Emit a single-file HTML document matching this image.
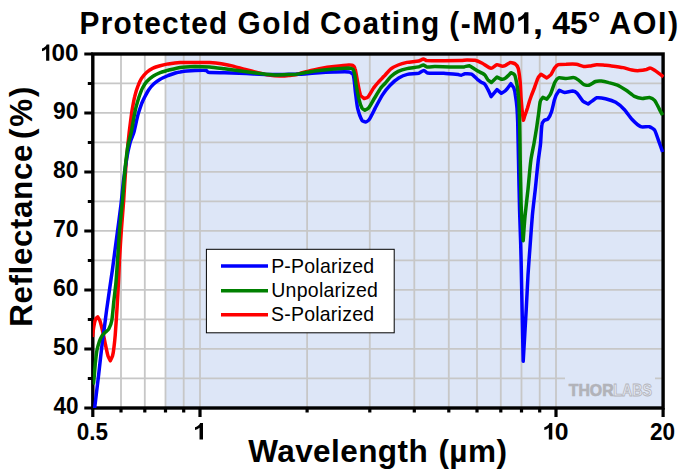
<!DOCTYPE html>
<html><head><meta charset="utf-8"><title>Protected Gold Coating</title>
<style>
html,body{margin:0;padding:0;background:#fff;}
body{width:682px;height:471px;overflow:hidden;font-family:"Liberation Sans",sans-serif;}
svg{display:block;}
</style></head><body>
<svg width="682" height="471" viewBox="0 0 682 471" font-family="'Liberation Sans', sans-serif">
<rect x="0" y="0" width="682" height="471" fill="#fff"/>
<rect x="165.5" y="54.0" width="497.7" height="354.0" fill="#dde6f7"/>
<path d="M121.0 54.0V408.0M144.8 54.0V408.0M165.5 54.0V408.0M183.7 54.0V408.0M200.0 54.0V408.0M307.1 54.0V408.0M369.8 54.0V408.0M414.3 54.0V408.0M448.8 54.0V408.0M477.0 54.0V408.0M500.8 54.0V408.0M521.5 54.0V408.0M539.7 54.0V408.0M556.0 54.0V408.0M92.8 378.3H663.1M92.8 348.8H663.1M92.8 319.3H663.1M92.8 289.8H663.1M92.8 260.3H663.1M92.8 230.8H663.1M92.8 201.3H663.1M92.8 171.8H663.1M92.8 142.3H663.1M92.8 112.8H663.1M92.8 83.3H663.1" stroke="#c7c7c7" stroke-width="1.8" fill="none"/>
<rect x="565" y="372" width="90" height="30" fill="#dde6f7"/>
<rect x="92.8" y="54.0" width="570.3" height="354.0" fill="none" stroke="#000" stroke-width="3.4"/>
<path d="M84.3 408.0H92.8M84.3 349.0H92.8M84.3 290.0H92.8M84.3 231.0H92.8M84.3 172.0H92.8M84.3 113.0H92.8M84.3 54.0H92.8M87.8 378.5H92.8M87.8 319.5H92.8M87.8 260.5H92.8M87.8 201.5H92.8M87.8 142.5H92.8M87.8 83.5H92.8M92.8 408.0V417.0M200.0 408.0V417.0M556.0 408.0V417.0M663.1 408.0V417.0M121.0 408.0V412.5M144.8 408.0V412.5M165.5 408.0V412.5M183.7 408.0V412.5M307.1 408.0V412.5M369.8 408.0V412.5M414.3 408.0V412.5M448.8 408.0V412.5M477.0 408.0V412.5M500.8 408.0V412.5M521.5 408.0V412.5M539.7 408.0V412.5" stroke="#000" stroke-width="3.2" fill="none"/>
<clipPath id="cp"><rect x="92.8" y="54" width="571.5" height="354"/></clipPath>
<g clip-path="url(#cp)" fill="none" stroke-width="3.5" stroke-linejoin="round" stroke-linecap="butt">
<path d="M92.6 337.0C92.6 337.0 93.1 331.4 93.3 330.0C93.5 328.5 94.3 324.0 94.6 322.5C94.8 321.6 95.6 319.1 96.0 318.3C96.2 317.9 97.7 316.8 97.7 316.8C97.7 316.8 99.7 320.1 100.0 321.0C100.7 323.2 102.4 330.1 102.9 332.4C103.5 334.9 105.0 342.5 105.5 345.0C106.0 347.2 107.3 353.8 108.0 356.0C108.3 357.0 110.3 360.8 110.3 360.8C110.3 360.8 112.2 357.0 112.5 356.0C113.0 354.2 113.8 348.8 114.0 347.0C114.3 344.7 115.0 337.7 115.2 335.4C115.6 329.8 116.8 312.8 117.1 307.2C117.5 301.2 118.4 283.4 118.7 277.4C118.9 273.8 119.3 263.0 119.5 259.4C119.8 253.5 121.0 235.6 121.4 229.7C121.8 223.8 123.3 205.9 123.7 200.0C124.2 193.0 125.4 172.0 126.0 165.0C126.5 158.4 128.5 138.7 129.2 132.1C129.7 127.9 131.3 115.5 131.9 111.3C132.4 108.4 134.0 99.6 134.7 96.7C135.2 94.4 137.3 87.6 138.2 85.4C138.7 84.0 140.7 79.7 141.5 78.4C142.4 77.0 145.6 73.3 146.8 72.2C147.9 71.2 151.7 68.7 153.0 68.1C154.4 67.4 158.7 66.1 160.2 65.7C161.8 65.3 166.6 64.2 168.2 63.9C170.6 63.6 177.7 62.8 180.1 62.6C181.7 62.5 186.4 62.5 188.0 62.5C189.4 62.5 193.6 62.6 195.0 62.6C197.9 62.6 206.8 62.4 209.7 62.5C212.1 62.6 219.1 63.3 221.4 63.7C223.8 64.1 230.8 65.5 233.1 66.1C235.8 66.8 243.6 69.1 246.3 69.8C248.6 70.4 255.7 72.2 258.0 72.7C260.1 73.2 266.2 74.6 268.3 74.9C270.6 75.2 277.7 75.9 280.0 76.0C281.8 76.1 287.0 75.7 288.8 75.5C290.0 75.4 293.8 75.2 295.0 74.9C297.0 74.5 302.7 72.5 304.7 72.0C307.6 71.2 316.4 69.2 319.3 68.6C322.2 68.1 331.1 66.8 334.0 66.5C336.9 66.2 345.8 65.3 348.7 65.1C349.6 65.1 352.3 65.0 353.0 65.4C353.7 65.8 355.0 68.3 355.2 69.1C355.9 71.6 357.1 79.4 357.6 82.0C358.1 84.6 359.5 92.6 360.5 95.1C360.9 96.0 364.2 98.6 364.2 98.6C364.2 98.6 367.4 97.7 367.9 97.1C369.3 95.5 372.5 89.7 373.7 87.9C374.5 86.8 377.1 83.6 378.0 82.6C378.8 81.6 381.5 78.8 382.4 77.9C382.9 77.4 384.5 75.7 385.0 75.2C386.2 73.9 389.5 70.0 390.9 68.9C392.2 67.9 396.7 65.6 398.2 65.0C399.9 64.3 405.2 62.8 407.0 62.4C409.3 61.9 416.4 61.5 418.7 61.0C419.7 60.8 422.4 59.2 423.4 59.1C424.1 59.1 426.1 60.5 426.8 60.6C430.2 60.9 440.3 60.7 443.7 60.7C447.2 60.7 457.7 60.7 461.2 60.6C462.4 60.6 465.9 60.0 467.1 60.0C468.7 60.0 473.5 60.0 475.0 60.3C476.5 60.6 480.9 62.5 482.3 63.2C484.1 64.1 489.1 68.1 491.1 68.3C492.5 68.4 495.6 65.0 497.0 64.7C497.9 64.5 500.5 66.0 501.4 66.1C502.1 66.2 504.4 65.9 505.1 65.6C506.2 65.2 509.1 62.8 510.3 62.6C511.3 62.4 514.5 63.4 515.3 64.0C516.2 64.6 518.0 67.5 518.3 68.5C519.0 71.2 519.9 79.5 520.2 82.3C520.5 85.8 520.9 96.5 521.2 100.0C521.4 102.4 522.0 109.6 522.3 112.0C522.5 113.7 523.4 120.3 523.4 120.3C523.4 120.3 524.3 117.3 524.5 116.5C524.8 115.7 525.7 113.1 526.0 112.3C526.3 111.4 527.2 108.9 527.5 108.0C527.9 106.6 529.1 102.4 529.5 101.0C529.9 99.8 531.2 96.2 531.6 95.0C532.1 93.8 533.5 90.2 534.0 89.0C534.8 86.8 537.0 80.0 538.0 77.9C538.4 77.0 541.0 74.2 541.0 74.2C541.0 74.2 546.8 77.9 546.8 77.9C546.8 77.9 550.5 75.1 551.2 74.2C552.0 73.1 553.6 69.4 554.4 68.3C555.0 67.5 557.1 65.0 558.1 64.7C559.6 64.2 564.5 64.2 566.1 64.2C568.2 64.1 574.4 63.9 576.4 64.2C577.9 64.4 582.2 66.2 583.7 66.4C584.9 66.6 588.4 66.3 589.6 66.1C591.0 65.9 595.3 64.8 596.7 64.7C598.5 64.6 603.9 65.2 605.7 65.3C606.8 65.4 610.2 65.8 611.3 65.9C613.7 66.2 620.8 67.1 623.1 67.6C624.9 68.0 630.1 69.7 631.9 70.0C633.3 70.3 637.7 70.7 639.2 70.6C640.7 70.5 645.1 69.8 646.5 69.5C647.3 69.3 649.4 68.0 650.2 68.1C651.2 68.2 653.8 69.8 654.6 70.3C655.7 71.0 658.7 73.2 659.7 73.9C660.5 74.5 663.4 76.9 663.4 76.9" stroke="#ff0000"/>
<path d="M92.8 424.0C92.8 424.0 94.3 410.9 94.7 407.6C95.5 400.9 97.9 380.9 98.7 374.2C99.5 367.7 101.6 348.0 102.4 341.5C102.7 338.8 103.9 330.7 104.3 328.0C104.8 324.4 106.1 313.7 106.6 310.1C107.2 305.6 109.2 292.3 109.8 287.8C110.3 284.2 111.9 273.5 112.4 269.9C113.3 263.4 115.8 243.7 116.7 237.2C117.6 230.7 120.2 211.0 121.0 204.5C121.6 199.6 123.0 184.9 123.6 180.0C124.2 175.6 126.0 162.4 126.8 158.0C127.3 155.0 129.2 146.0 130.0 143.0C130.6 140.8 133.3 134.6 133.9 132.4C134.8 129.1 136.9 118.7 137.8 115.4C138.4 113.0 140.8 106.0 141.6 103.7C142.1 102.4 144.0 98.5 144.6 97.2C145.4 95.7 147.7 91.4 148.6 90.0C149.5 88.7 152.7 84.9 153.9 83.8C155.0 82.8 158.9 80.1 160.2 79.3C161.7 78.4 166.6 76.2 168.2 75.5C169.6 75.0 173.9 73.5 175.4 73.0C176.3 72.7 179.1 72.0 180.1 71.9C181.5 71.7 185.6 71.2 187.0 71.1C188.6 71.0 193.4 70.7 195.0 70.6C197.3 70.5 204.1 70.2 206.3 70.5C206.8 70.6 207.7 72.1 208.2 72.2C211.4 72.6 221.1 72.6 224.3 72.7C227.2 72.8 236.1 73.1 239.0 73.2C241.9 73.3 250.8 73.8 253.7 73.9C256.0 74.0 263.1 74.4 265.4 74.5C267.7 74.6 274.8 74.6 277.1 74.6C279.4 74.6 286.5 74.3 288.8 74.2C290.0 74.2 293.8 74.3 295.0 74.3C296.9 74.3 302.8 74.0 304.7 73.9C307.6 73.7 316.4 72.9 319.3 72.7C322.2 72.5 331.1 72.1 334.0 72.0C337.0 71.9 345.9 71.5 348.8 71.9C349.8 72.1 352.9 73.7 353.2 74.7C354.3 78.0 354.9 88.5 355.4 92.0C355.8 95.2 356.9 105.0 357.6 108.2C358.2 110.7 360.7 118.1 362.0 120.3C362.4 121.0 364.9 122.1 365.7 122.0C366.6 121.9 368.8 120.2 369.3 119.4C370.7 117.3 374.0 110.4 375.2 108.1C376.6 105.5 380.9 97.4 382.5 94.9C383.8 92.9 388.2 87.1 389.9 85.4C391.5 83.8 396.8 79.3 398.7 78.1C400.3 77.1 405.6 74.8 407.4 74.4C409.6 73.9 416.5 73.7 418.7 73.2C419.8 72.9 422.7 70.5 423.9 70.5C424.8 70.5 426.6 72.9 427.5 73.0C430.7 73.4 440.5 73.0 443.7 73.2C446.6 73.4 455.4 74.3 458.3 74.6C458.9 74.7 460.6 75.3 461.2 75.2C462.0 75.1 464.1 73.9 464.9 73.8C466.2 73.7 470.3 73.7 471.5 74.2C472.9 74.8 476.2 78.3 477.4 79.3C478.3 80.0 480.9 82.0 481.8 82.6C482.3 82.9 484.1 83.4 484.5 83.9C485.4 84.9 487.4 88.5 488.0 89.7C488.7 91.0 491.1 96.6 491.1 96.6C491.1 96.6 497.0 89.6 497.0 89.6C497.0 89.6 501.4 93.3 501.4 93.3C501.4 93.3 505.1 91.1 505.8 90.3C507.0 89.1 510.9 83.7 510.9 83.7C510.9 83.7 513.5 87.1 513.9 88.1C514.5 89.6 515.3 94.4 515.5 96.0C515.9 98.4 516.8 105.6 517.0 108.0C517.2 110.8 517.6 119.2 517.7 122.0C517.9 129.6 518.3 152.4 518.5 160.0C518.7 170.2 519.3 200.8 519.6 211.0C519.8 217.7 520.5 237.6 520.7 244.3C520.9 250.4 521.3 268.9 521.4 275.0C521.5 282.0 522.0 303.0 522.1 310.0C522.3 320.3 523.2 361.3 523.2 361.3C523.2 361.3 525.6 320.3 526.2 310.0C526.6 303.0 527.6 282.0 528.0 275.0C528.4 268.9 529.7 250.4 530.2 244.3C530.6 238.4 531.9 220.9 532.4 215.0C532.9 209.8 534.7 194.4 535.3 189.3C535.9 183.4 537.6 165.9 538.3 160.0C538.7 156.8 540.2 147.2 540.5 144.0C540.9 140.2 541.3 128.7 541.9 124.9C542.0 123.9 543.4 121.2 544.1 120.5C544.7 119.9 547.3 119.7 547.8 119.1C548.9 117.8 551.0 113.3 551.5 111.7C552.3 109.4 553.8 102.3 554.4 100.0C554.7 99.1 555.6 96.4 556.0 95.5C556.6 94.4 559.3 90.3 559.3 90.3C559.3 90.3 563.5 92.4 564.7 92.5C566.3 92.6 571.1 91.0 572.7 91.1C573.7 91.2 576.4 92.6 577.1 93.3C578.5 94.7 581.6 99.9 583.0 101.3C583.8 102.1 588.1 104.0 588.1 104.0C588.1 104.0 591.5 101.5 592.4 100.9C593.3 100.3 595.7 98.0 596.7 97.8C598.4 97.5 603.8 98.3 605.5 98.7C607.6 99.2 613.8 101.2 615.7 102.3C617.7 103.5 622.9 108.0 624.5 109.7C626.2 111.5 630.2 117.5 631.9 119.3C633.5 121.0 638.6 125.8 640.7 126.7C642.3 127.4 647.7 126.3 649.4 126.7C650.6 127.0 653.9 129.1 654.6 130.1C655.7 131.8 657.5 137.7 658.2 139.6C659.1 142.1 662.6 152.0 662.6 152.0" stroke="#0000ff"/>
<path d="M92.8 384.0C92.8 384.0 93.6 383.3 93.6 383.1C94.1 379.0 95.0 366.5 95.4 362.3C95.7 359.8 96.5 352.4 97.0 350.0C97.4 348.2 98.9 342.8 99.5 341.0C99.9 339.9 101.4 336.8 102.0 335.8C102.5 335.1 104.4 333.2 105.0 332.6C105.7 331.9 108.3 329.9 108.8 329.0C109.7 327.4 111.5 322.3 111.8 320.5C112.5 316.4 113.5 303.9 114.0 299.7C114.4 296.1 115.7 285.5 116.0 281.9C116.2 279.5 116.7 272.4 116.9 270.0C117.5 261.9 119.0 237.8 119.6 229.7C120.1 223.8 122.0 205.9 122.5 200.0C123.1 193.4 124.5 173.7 125.2 167.2C125.7 162.7 127.3 149.3 128.1 144.9C128.6 142.3 130.8 134.7 131.3 132.2C132.1 128.1 134.1 115.7 135.0 111.6C135.6 108.7 138.1 100.0 139.0 97.1C139.6 95.3 141.5 89.9 142.4 88.2C143.1 86.8 145.7 82.7 146.8 81.5C147.9 80.3 151.6 77.1 153.0 76.2C154.3 75.3 158.7 73.2 160.2 72.6C161.8 72.0 166.6 70.7 168.2 70.2C170.6 69.6 177.7 67.7 180.1 67.4C183.1 67.0 192.0 66.6 195.0 66.5C197.9 66.5 206.8 66.7 209.7 66.9C212.6 67.1 221.4 68.4 224.3 68.8C227.2 69.2 236.1 70.4 239.0 70.8C241.9 71.2 250.8 72.3 253.7 72.7C256.0 73.0 263.1 74.0 265.4 74.2C267.7 74.4 274.8 74.9 277.1 74.9C279.4 74.9 286.5 74.7 288.8 74.6C290.0 74.6 293.8 74.7 295.0 74.5C297.0 74.3 302.8 73.0 304.7 72.7C307.6 72.2 316.4 70.9 319.3 70.5C322.2 70.1 331.1 69.2 334.0 69.0C336.9 68.8 345.8 68.0 348.7 68.0C349.6 68.1 352.4 68.7 353.0 69.4C353.9 70.5 354.7 74.6 355.0 76.0C355.3 77.7 355.8 83.0 356.1 84.7C356.6 87.7 358.4 96.8 359.1 99.7C359.5 101.5 361.1 106.5 362.0 108.1C362.4 108.7 364.9 110.3 364.9 110.3C364.9 110.3 368.1 108.7 368.6 108.0C369.9 106.5 372.7 101.2 373.7 99.5C375.2 97.1 379.5 89.9 381.1 87.6C381.8 86.7 384.3 84.3 385.0 83.5C386.2 82.1 389.6 77.7 390.9 76.5C392.2 75.3 396.6 72.2 398.2 71.4C399.9 70.6 405.2 69.0 407.0 68.6C409.3 68.1 416.4 67.4 418.7 66.9C419.7 66.7 422.4 65.0 423.4 65.0C424.2 65.0 426.0 66.8 426.8 66.9C428.4 67.1 433.3 66.6 434.9 66.6C438.1 66.6 447.8 66.9 451.0 66.9C453.6 66.9 461.6 67.1 464.2 66.9C465.2 66.8 468.3 65.6 469.3 65.8C470.6 66.1 473.9 68.6 475.0 69.3C475.5 69.6 476.8 70.5 477.3 70.8C478.7 71.6 483.3 73.6 484.5 74.7C485.5 75.5 487.2 79.0 488.0 79.9C488.6 80.5 491.4 82.5 491.4 82.5C491.4 82.5 497.0 77.1 497.0 77.1C497.0 77.1 501.0 79.2 502.1 79.3C502.9 79.4 505.2 78.4 505.8 77.9C507.0 77.0 510.9 72.7 510.9 72.7C510.9 72.7 514.2 74.1 514.6 74.9C515.5 76.5 516.4 81.9 516.8 83.7C517.1 85.3 517.8 90.3 518.0 92.0C518.3 94.6 518.9 102.4 519.0 105.0C519.2 109.0 519.6 121.0 519.7 125.0C519.9 132.0 520.1 153.0 520.2 160.0C520.4 168.8 520.9 195.2 521.1 204.0C521.2 207.2 521.7 216.8 521.9 220.0C522.1 224.1 523.2 240.7 523.2 240.7C523.2 240.7 524.6 220.7 525.1 215.7C525.6 210.4 527.4 194.6 528.0 189.3C528.6 183.4 530.1 165.8 530.9 160.0C531.3 156.8 533.3 147.2 533.9 144.0C534.5 140.5 536.3 129.9 536.8 126.4C537.2 123.6 538.4 115.1 538.8 112.3C539.1 110.1 539.7 103.4 540.3 101.2C540.5 100.3 542.9 97.4 542.9 97.4C542.9 97.4 546.8 99.1 546.8 99.1C546.8 99.1 550.0 95.1 550.5 94.0C551.6 91.7 553.8 84.5 554.9 82.3C555.4 81.3 557.5 78.3 558.6 77.9C560.0 77.4 564.6 78.6 566.1 78.6C567.6 78.6 572.0 77.4 573.5 77.6C574.6 77.7 577.7 79.5 578.6 80.1C579.7 80.9 582.5 83.9 583.7 84.5C584.6 85.0 587.9 85.5 588.9 85.2C590.4 84.8 594.1 82.0 595.5 81.5C596.6 81.1 600.1 81.0 601.3 81.1C602.8 81.2 607.2 82.2 608.7 82.6C610.5 83.0 615.7 84.5 617.4 85.2C619.3 86.0 624.5 89.2 626.2 90.3C627.9 91.4 632.7 95.5 634.5 96.4C635.9 97.1 640.7 98.3 642.3 98.4C643.7 98.5 648.0 97.2 649.4 97.4C650.6 97.6 653.8 99.4 654.6 100.3C655.8 101.7 658.1 106.8 659.0 108.4C659.7 109.8 662.6 115.2 662.6 115.2" stroke="#008000"/>
</g>
<rect x="206.4" y="249.3" width="187.8" height="83.5" fill="#fff" stroke="#000" stroke-width="1"/>
<path d="M221 266.0H268" stroke="#0000ff" stroke-width="3.6" fill="none"/>
<path d="M221 290.8H268" stroke="#008000" stroke-width="3.6" fill="none"/>
<path d="M221 314.7H268" stroke="#ff0000" stroke-width="3.6" fill="none"/>
<text transform="translate(79.46 33.70) scale(0.9650 1)" font-size="30.9" font-weight="bold" letter-spacing="1.330" fill="#000">Protected</text>
<text transform="translate(237.41 33.70) scale(0.9650 1)" font-size="30.9" font-weight="bold" letter-spacing="1.779" fill="#000">Gold</text>
<text transform="translate(320.11 33.70) scale(0.9650 1)" font-size="30.9" font-weight="bold" letter-spacing="1.413" fill="#000">Coating</text>
<text transform="translate(449.16 33.70) scale(0.9650 1)" font-size="30.9" font-weight="bold" letter-spacing="1.671" fill="#000">(-M0</text>
<text transform="translate(532.77 33.70) scale(1.2082 1)" font-size="30.9" font-weight="bold" fill="#000">,</text>
<text transform="translate(552.22 33.70) scale(1.0326 1)" font-size="30.9" font-weight="bold" fill="#000">45°</text>
<text transform="translate(609.19 33.70) scale(0.9850 1)" font-size="30.9" font-weight="bold" letter-spacing="1.565" fill="#000">AOI)</text>
<text transform="translate(248.20 462.20) scale(0.9950 1)" font-size="31.7" font-weight="bold" letter-spacing="0.411" fill="#000">Wavelength</text>
<text transform="translate(438.38 462.20) scale(0.9950 1)" font-size="31.7" font-weight="bold" letter-spacing="0.472" fill="#000">(µm)</text>
<text transform="translate(31.60 326.84) rotate(-90) scale(0.9700 1)" font-size="32.3" font-weight="bold" letter-spacing="0.663" fill="#000">Reflectance</text>
<text transform="translate(31.60 139.11) rotate(-90) scale(0.9700 1)" font-size="32.3" font-weight="bold" letter-spacing="2.005" fill="#000">(%)</text>
<text transform="translate(53.46 414.20) scale(0.9544 1)" font-size="23.6" font-weight="bold" fill="#000">40</text>
<text transform="translate(53.11 355.20) scale(0.9680 1)" font-size="23.6" font-weight="bold" fill="#000">50</text>
<text transform="translate(53.00 296.20) scale(0.9727 1)" font-size="23.6" font-weight="bold" fill="#000">60</text>
<text transform="translate(52.88 237.20) scale(0.9774 1)" font-size="23.6" font-weight="bold" fill="#000">70</text>
<text transform="translate(53.11 178.20) scale(0.9680 1)" font-size="23.6" font-weight="bold" fill="#000">80</text>
<text transform="translate(53.11 119.20) scale(0.9680 1)" font-size="23.6" font-weight="bold" fill="#000">90</text>
<text transform="translate(51.45 60.80) scale(1.0297 1)" font-size="23.6" font-weight="bold" fill="#000">00</text>
<text transform="translate(76.81 439.50) scale(0.9533 1)" font-size="23.6" font-weight="bold" fill="#000">0.5</text>
<text transform="translate(554.63 439.50) scale(1.0484 1)" font-size="23.6" font-weight="bold" fill="#000">0</text>
<text transform="translate(649.92 439.50) scale(0.9559 1)" font-size="23.6" font-weight="bold" fill="#000">20</text>
<text transform="translate(271.14 272.70) scale(0.9650 1)" font-size="20.2" font-weight="normal" letter-spacing="0.238" fill="#000">P-Polarized</text>
<text transform="translate(271.24 297.00) scale(0.9650 1)" font-size="20.2" font-weight="normal" letter-spacing="0.283" fill="#000">Unpolarized</text>
<text transform="translate(270.92 321.20) scale(0.9650 1)" font-size="20.2" font-weight="normal" letter-spacing="0.260" fill="#000">S-Polarized</text>
<text transform="translate(568.74 395.50) scale(0.9275 1)" font-size="17.1" font-weight="bold" fill="#b2b3b9" stroke="#b2b3b9" stroke-width="0.7">THOR</text>
<text transform="translate(613.27 395.50) scale(0.8347 1)" font-size="17.1" font-weight="bold" fill="#e6eaf4" stroke="#b4b5bb" stroke-width="0.9">LABS</text>
<path d="M528.40 33.70L523.95 33.70L523.95 18.30Q521.51 20.40 518.20 21.40L518.20 17.69Q519.94 17.17 521.99 15.71Q524.03 14.25 524.79 12.30L528.40 12.30ZM49.30 60.80L46.12 60.80L46.12 49.00Q44.37 50.61 42.00 51.37L42.00 48.53Q43.25 48.13 44.71 47.01Q46.17 45.89 46.72 44.40L49.30 44.40ZM203.00 439.50L199.51 439.50L199.51 427.70Q197.60 429.31 195.00 430.07L195.00 427.23Q196.37 426.83 197.97 425.71Q199.57 424.59 200.17 423.10L203.00 423.10ZM552.30 439.50L548.81 439.50L548.81 427.70Q546.90 429.31 544.30 430.07L544.30 427.23Q545.67 426.83 547.27 425.71Q548.87 424.59 549.47 423.10L552.30 423.10Z" fill="#000"/>
</svg>
</body></html>
